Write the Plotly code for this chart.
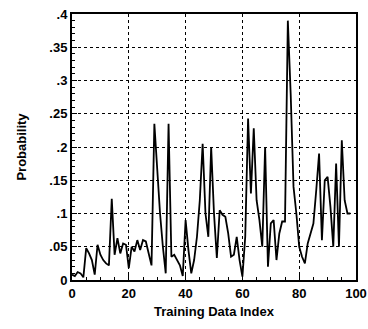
import plotly.graph_objects as go

index = list(range(0, 99))
probability = [
    0.008, 0.006, 0.012, 0.010, 0.004, 0.048, 0.040, 0.030, 0.008, 0.053,
    0.038, 0.030, 0.025, 0.022, 0.122, 0.038, 0.063, 0.040, 0.055, 0.053,
    0.018, 0.050, 0.043, 0.060, 0.045, 0.060, 0.058, 0.038, 0.022, 0.235,
    0.165, 0.100, 0.050, 0.010, 0.235, 0.035, 0.038, 0.030, 0.022, 0.006,
    0.090, 0.045, 0.010, 0.030, 0.065, 0.120, 0.205, 0.100, 0.065, 0.200,
    0.100, 0.033, 0.105, 0.098, 0.095, 0.070, 0.035, 0.038, 0.065, 0.030,
    0.005, 0.065, 0.243, 0.130, 0.228, 0.120, 0.090, 0.050, 0.200, 0.020,
    0.085, 0.090, 0.030, 0.070, 0.088, 0.088, 0.390, 0.280, 0.140, 0.100,
    0.050, 0.035, 0.025, 0.055, 0.070, 0.085, 0.135, 0.190, 0.060, 0.150,
    0.155, 0.110, 0.050, 0.175, 0.050, 0.210, 0.120, 0.100, 0.100,
]

y_tickvals = [0, 0.05, 0.1, 0.15, 0.2, 0.25, 0.3, 0.35, 0.4]
y_ticktext = ["0", ".05", ".1", ".15", ".2", ".25", ".3", ".35", ".4"]
x_tickvals = [0, 20, 40, 60, 80, 100]
x_ticktext = ["0", "20", "40", "60", "80", "100"]

font_fam = "Liberation Sans, Arial, sans-serif"

fig = go.Figure()
fig.add_trace(go.Scatter(x=index, y=probability, mode="lines",
                         line=dict(color="black", width=1.8), showlegend=False))

fig.update_layout(
    width=368, height=329,
    margin=dict(l=72, r=12, t=14, b=49),
    paper_bgcolor="white", plot_bgcolor="white",
    font=dict(family=font_fam, size=13, color="black", weight="bold"),
)
fig.update_xaxes(
    range=[0, 100], tickvals=x_tickvals, ticktext=x_ticktext, automargin=False,
    showgrid=True, gridcolor="black", griddash="dot", gridwidth=1,
    zeroline=False, showline=True, linecolor="black", linewidth=2, mirror=True,
    ticks="inside", ticklen=5, tickcolor="black", tickwidth=1,
    minor=dict(dtick=5, ticks="inside", ticklen=3, tickcolor="black", showgrid=False),
    title=dict(text="Training Data Index", standoff=7, font=dict(size=13, weight="bold")),
    tickfont=dict(size=13, weight="bold"),
)
fig.update_yaxes(
    range=[0, 0.4], tickvals=y_tickvals, ticktext=y_ticktext, automargin=False,
    showgrid=True, gridcolor="black", griddash="dot", gridwidth=1,
    zeroline=False, showline=True, linecolor="black", linewidth=2, mirror=True,
    ticks="inside", ticklen=5, tickcolor="black", tickwidth=1,
    minor=dict(dtick=0.01, ticks="inside", ticklen=3, tickcolor="black", showgrid=False),
    title=dict(text="Probability", standoff=20, font=dict(size=13, weight="bold")),
    tickfont=dict(size=13, weight="bold"),
)

fig.write_html("out.html")
